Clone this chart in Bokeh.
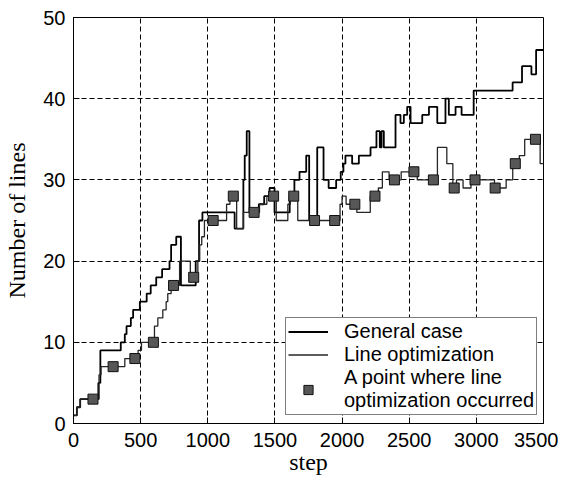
from bokeh.plotting import figure
from bokeh.models import Range1d, Legend, LegendItem, FixedTicker
from bokeh.embed import file_html
from bokeh.resources import INLINE

# ---- data ----
x_ticks = [0, 500, 1000, 1500, 2000, 2500, 3000, 3500]
y_ticks = [0, 10, 20, 30, 40, 50]

# General case (step line)
gen_x = [0, 25, 50, 185, 200, 352, 382, 395, 427, 444, 494, 545, 575, 616, 660,
         715, 727, 765, 800, 910, 935, 960, 1200, 1265, 1275, 1290, 1310, 1380,
         1420, 1460, 1497, 1610, 1645, 1683, 1733, 1755, 1815, 1862, 1900, 1956,
         1990, 2010, 2025, 2075, 2125, 2212, 2256, 2281, 2294, 2311, 2398, 2435,
         2460, 2485, 2510, 2597, 2647, 2709, 2770, 2795, 2845, 2890, 2980, 3270,
         3340, 3410, 3445, 3500]
gen_y = [1, 2, 3, 5, 9, 10, 11, 12, 13, 14, 15, 16, 17, 18, 19,
         20, 22, 23, 17, 20, 25, 26, 24, 30, 33, 36, 26, 27,
         28, 29, 26, 28, 30, 31, 33, 25, 34, 30, 29, 30,
         31, 32, 33, 32, 33, 34, 36, 34, 36, 34, 38, 37,
         38, 39, 37, 38, 39, 37, 40, 38, 39, 38, 41, 42,
         44, 43, 46, 46]

# Line optimization (step line)
opt_x = [0, 25, 50, 190, 205, 382, 481, 506, 603, 628, 665, 690, 702, 727, 790,
         870, 926, 940, 955, 975, 1140, 1165, 1215, 1265, 1385, 1440, 1510, 1596,
         1615, 1670, 1985, 2000, 2030, 2110, 2210, 2270, 2300, 2350, 2440, 2560,
         2710, 2780, 2825, 2852, 2901, 2960, 3135, 3222, 3271, 3320, 3360, 3475,
         3500]
opt_y = [1, 2, 3, 6, 7, 8, 9, 10, 12, 13, 14, 15, 16, 17, 20,
         18, 20, 22, 23, 25, 27, 28, 24, 26, 27, 28, 25, 27,
         28, 25, 27, 28, 27, 26, 28, 29, 31, 30, 31, 30,
         34, 32, 29, 30, 29, 30, 29, 30, 32, 33, 35, 32,
         32]

# Points where line optimization occurred
pt_x = [145, 295, 457, 595, 745, 895, 1040, 1190, 1345, 1490, 1640, 1795,
        1945, 2095, 2245, 2390, 2535, 2680, 2835, 2990, 3140, 3290, 3440]
pt_y = [3, 7, 8, 10, 17, 18, 25, 28, 26, 28, 28, 25,
        25, 27, 28, 30, 31, 30, 29, 30, 29, 32, 35]

labels = ["General case", "Line optimization",
          "A point where line\noptimization occurred"]
x_title = "step"
y_title = "Number of lines"

p = figure(width=558, height=477,
           min_border_left=73, min_border_right=15,
           min_border_top=17, min_border_bottom=54,
           x_range=Range1d(0, 3500), y_range=Range1d(0, 50),
           output_backend="svg", toolbar_location=None)

p.background_fill_color = "white"
p.border_fill_color = "white"
p.outline_line_color = "black"
p.outline_line_width = 1
p.outline_line_alpha = 1

for ax, ticks in ((p.xaxis, x_ticks), (p.yaxis, y_ticks)):
    ax.ticker = FixedTicker(ticks=ticks)
    ax.major_label_text_font = "Liberation Sans"
    ax.major_label_text_font_size = "20px"
    ax.major_label_text_color = "black"
    ax.major_tick_in = 6
    ax.major_tick_out = 0
    ax.minor_tick_in = 0
    ax.minor_tick_out = 0
    ax.axis_line_color = "black"
    ax.major_tick_line_color = "black"
    ax.axis_label_text_font = "Liberation Serif"
    ax.axis_label_text_font_size = "24px"
    ax.axis_label_text_font_style = "normal"
    ax.axis_label_text_color = "black"

p.xaxis.major_label_standoff = 9
p.yaxis.major_label_standoff = 8
p.xaxis.axis_label = x_title
p.yaxis.axis_label = y_title
p.xaxis.axis_label_standoff = -1
p.yaxis.axis_label_standoff = 10

p.grid.grid_line_color = "black"
p.grid.grid_line_dash = "5 3"
p.grid.grid_line_width = 1

r_gen = p.step(gen_x, gen_y, mode="after", line_color="black", line_width=1.8)
r_opt = p.step(opt_x, opt_y, mode="after", line_color="#262626", line_width=1.3)
r_pts = p.scatter(pt_x, pt_y, marker="square", size=10,
                  fill_color="#575757", line_color="#111111", line_width=1)

legend = Legend(items=[LegendItem(label=labels[0], renderers=[r_gen]),
                       LegendItem(label=labels[1], renderers=[r_opt]),
                       LegendItem(label=labels[2], renderers=[r_pts])],
                location=(212, 8))
legend.label_text_font = "Liberation Sans"
legend.label_text_font_size = "20px"
legend.label_text_line_height = 1.15
legend.label_text_color = "black"
legend.label_standoff = 16
legend.glyph_width = 40
legend.glyph_height = 23
legend.label_height = 23
legend.spacing = 0
legend.padding = 2
legend.margin = 0
legend.border_line_color = "black"
legend.border_line_width = 1
legend.background_fill_color = "white"
legend.background_fill_alpha = 1
p.add_layout(legend)

open("out.html", "w").write(file_html(p, INLINE))
